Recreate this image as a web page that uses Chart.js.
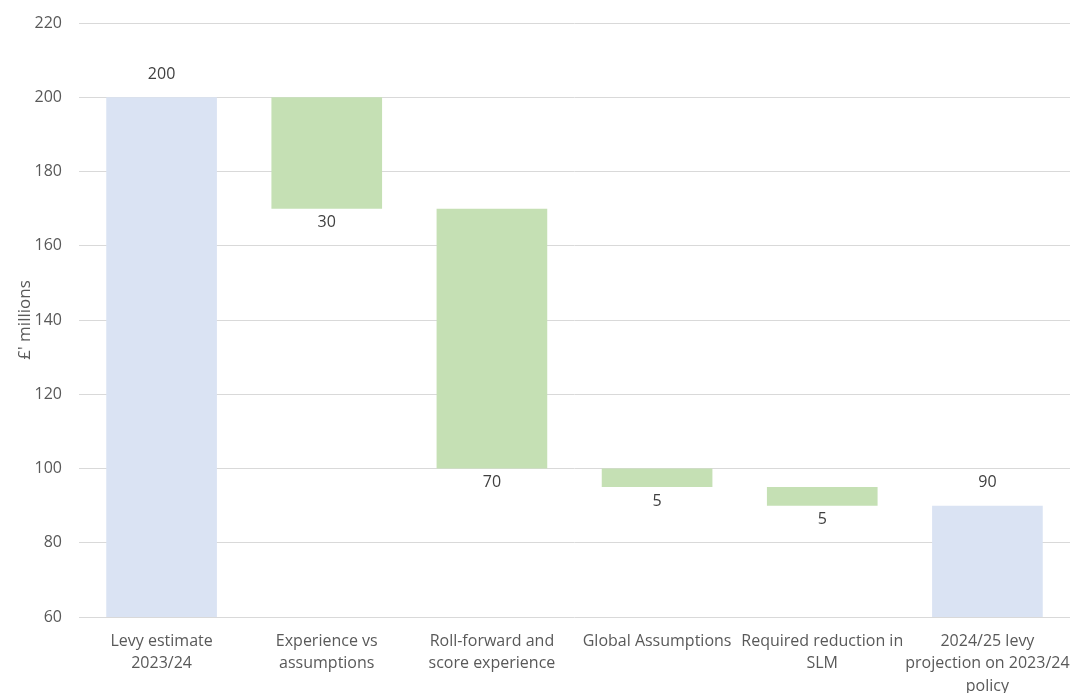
<!DOCTYPE html>
<html>
<head>
<meta charset="utf-8">
<script src="https://cdn.jsdelivr.net/npm/chart.js@4.4.0/dist/chart.umd.min.js"></script>
<style>
  html, body { margin: 0; padding: 0; background: #fff; }
  #wrap { width: 1070px; height: 693px; }
</style>
</head>
<body>
<div id="wrap"><canvas id="myChart"></canvas></div>
<script>
const categories = [
    ['Levy estimate', '2023/24'],
    ['Experience vs', 'assumptions'],
    ['Roll-forward and', 'score experience'],
    ['Global Assumptions'],
    ['Required reduction in', 'SLM'],
    ['2024/25 levy', 'projection on 2023/24', 'policy']
];
const startTotal = 200;
const reductions = [30, 70, 5, 5];
const endTotal = 90;
const axisMin = 60;
const axisMax = 220;

// build the floating ranges for the waterfall
const ranges = [[axisMin, startTotal]];
const labelValues = [startTotal];
const isTotal = [true];
let running = startTotal;
reductions.forEach(r => {
    ranges.push([running - r, running]);
    labelValues.push(r);
    isTotal.push(false);
    running -= r;
});
ranges.push([axisMin, endTotal]);
labelValues.push(endTotal);
isTotal.push(true);

const textColor = '#595959';
const fontFamily = '"Open Sans", "Noto Sans", sans-serif';

const valueLabels = {
    id: 'valueLabels',
    afterDatasetsDraw(chart) {
        const ctx = chart.ctx;
        const meta = chart.getDatasetMeta(0);
        const yScale = chart.scales.y;
        ctx.save();
        ctx.font = '16px ' + fontFamily;
        ctx.fillStyle = '#404040';
        ctx.textAlign = 'center';
        ctx.textBaseline = 'middle';
        meta.data.forEach((bar, i) => {
            const r = ranges[i];
            if (isTotal[i]) {
                ctx.fillText(labelValues[i], bar.x, yScale.getPixelForValue(r[1]) - 23);
            } else {
                ctx.fillText(labelValues[i], bar.x, yScale.getPixelForValue(r[0]) + 14);
            }
        });
        ctx.restore();
    }
};

const ctx = document.getElementById('myChart').getContext('2d');
const myChart = new Chart(ctx, {
    type: 'bar',
    data: {
        labels: categories,
        datasets: [{
            data: ranges,
            backgroundColor: isTotal.map(t => t ? '#DAE3F3' : '#C5E0B4'),
            borderWidth: 0,
            categoryPercentage: 1.0,
            barPercentage: 0.67
        }]
    },
    options: {
        responsive: true,
        maintainAspectRatio: false,
        animation: false,
        layout: { padding: { top: 23, right: 0, left: 0, bottom: 0 } },
        plugins: {
            legend: { display: false },
            tooltip: { enabled: false }
        },
        scales: {
            x: {
                grid: { display: false },
                border: { display: false },
                ticks: {
                    color: textColor,
                    font: { family: fontFamily, size: 16, lineHeight: 1.4 },
                    maxRotation: 0,
                    autoSkip: false,
                    padding: 5
                },
                afterFit(scale) {
                    scale.height = 76;
                    // let the last label run to the edge instead of shrinking the plot
                    scale.paddingLeft = 0;
                    scale.paddingRight = 0;
                }
            },
            y: {
                min: axisMin,
                max: axisMax,
                grid: { color: '#D9D9D9', drawTicks: false },
                border: { display: false },
                ticks: {
                    stepSize: 20,
                    color: textColor,
                    font: { family: fontFamily, size: 16 },
                    padding: 17
                },
                title: {
                    display: true,
                    text: "£' millions",
                    color: textColor,
                    font: { family: fontFamily, size: 17 },
                    padding: { top: 15, bottom: 0 }
                },
                afterFit(scale) {
                    scale.width = 79;
                    scale.paddingTop = 0;
                    scale.paddingBottom = 0;
                }
            }
        }
    },
    plugins: [valueLabels]
});
</script>
</body>
</html>
